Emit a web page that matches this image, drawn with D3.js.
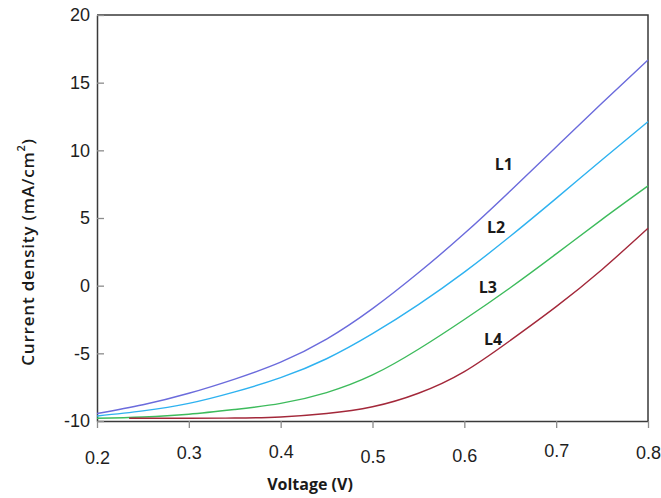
<!DOCTYPE html>
<html>
<head>
<meta charset="utf-8">
<script src="https://cdn.jsdelivr.net/npm/d3@7"></script>
<style>
    body { margin: 0; background: #fff; }
    svg { font-family: "Open Sans", "DejaVu Sans", sans-serif; }
</style>
</head>
<body>
<div id="chart"></div>
<script>
// Data (voltage in V, current density in mA/cm2)
const voltage = [0.2, 0.25, 0.3, 0.35, 0.4, 0.45, 0.5, 0.55, 0.6, 0.65, 0.7, 0.75, 0.8];
const l1 = [-9.45, -8.8, -7.95, -6.9, -5.65, -3.95, -1.7, 0.95, 3.85, 7.0, 10.25, 13.5, 16.68];
const l2 = [-9.63, -9.25, -8.7, -7.85, -6.8, -5.4, -3.55, -1.4, 1.0, 3.65, 6.45, 9.3, 12.12];
const l3 = [-9.8, -9.7, -9.5, -9.15, -8.7, -7.9, -6.6, -4.7, -2.5, -0.15, 2.35, 4.9, 7.37];
const l4Voltage = [0.235, 0.3, 0.35, 0.4, 0.45, 0.5, 0.55, 0.6, 0.65, 0.7, 0.75, 0.8];
const l4 = [-9.8, -9.8, -9.78, -9.7, -9.45, -8.95, -7.95, -6.35, -4.05, -1.55, 1.2, 4.24];

const seriesNames = ["L1", "L2", "L3", "L4"];
const xTicks = [0.2, 0.3, 0.4, 0.5, 0.6, 0.7, 0.8];
const yTicks = [-10, -5, 0, 5, 10, 15, 20];

const colors = {
    L1: "#6b6bdc",
    L2: "#2eb2f0",
    L3: "#3dbb5c",
    L4: "#a3283a"
};

// label anchor points (in data units) for the series names
const labelPos = {
    L1: [0.643, 9.0],
    L2: [0.6345, 4.36],
    L3: [0.6256, -0.1],
    L4: [0.6312, -3.94]
};

const width = 661, height = 498;
const margin = { top: 15, right: 13, bottom: 77, left: 97 };
const w = width - margin.left - margin.right;
const h = height - margin.top - margin.bottom;

const svg = d3.select("#chart").append("svg")
    .attr("width", width)
    .attr("height", height);

const g = svg.append("g")
    .attr("transform", `translate(${margin.left},${margin.top})`);

const x = d3.scaleLinear().domain([0.2, 0.8]).range([0, w]);
const y = d3.scaleLinear().domain([-10, 20]).range([h, 0]);

// Frame (top and right sides)
g.append("path")
    .attr("d", `M0,0H${w}V${h}`)
    .attr("fill", "none")
    .attr("stroke", "#3a3a3a")
    .attr("stroke-width", 1.5);

// Axes
const xAxis = g.append("g")
    .attr("transform", `translate(0,${h})`)
    .call(d3.axisBottom(x).tickValues(xTicks).tickFormat(d3.format(".1f"))
        .tickSize(7).tickSizeOuter(0).tickPadding(18));

// the scanned labels sit at slightly uneven heights
const xLabelShift = [5, 0, -1, 4, 3, -2, 0];
xAxis.selectAll(".tick text")
    .attr("transform", (d, i) => `translate(0,${xLabelShift[i]})`);

const yAxis = g.append("g")
    .call(d3.axisLeft(y).tickValues(yTicks).tickFormat(d => String(d))
        .tickSize(-7).tickSizeOuter(0).tickPadding(7));

[xAxis, yAxis].forEach(a => {
    a.select(".domain").attr("stroke", "#3a3a3a").attr("stroke-width", 1.5);
    a.selectAll(".tick line").attr("stroke", "#8c8c8c").attr("stroke-width", 1.3);
    a.selectAll(".tick text")
        .style("font-size", "18px")
        .attr("fill", "#1e1e1e");
});

// Lines
const line = d3.line()
    .x(d => x(d[0]))
    .y(d => y(d[1]))
    .curve(d3.curveNatural);

const series = [
    { name: "L1", points: d3.zip(voltage, l1) },
    { name: "L2", points: d3.zip(voltage, l2) },
    { name: "L3", points: d3.zip(voltage, l3) },
    { name: "L4", points: d3.zip(l4Voltage, l4) }
];

g.selectAll(".series")
    .data(series)
    .join("path")
    .attr("class", "series")
    .attr("fill", "none")
    .attr("stroke", d => colors[d.name])
    .attr("stroke-width", 1.4)
    .attr("d", d => line(d.points));

// Series labels
g.selectAll(".lbl")
    .data(seriesNames)
    .join("text")
    .attr("class", "lbl")
    .attr("x", d => x(labelPos[d][0]))
    .attr("y", d => y(labelPos[d][1]))
    .attr("text-anchor", "middle")
    .attr("dominant-baseline", "central")
    .style("font-size", "16px")
    .style("font-weight", "bold")
    .attr("fill", "#1a1a1a")
    .text(d => d);

// Axis titles
svg.append("text")
    .attr("x", 310)
    .attr("y", 484)
    .attr("text-anchor", "middle")
    .attr("dominant-baseline", "central")
    .style("font-size", "16px")
    .style("font-weight", "bold")
    .attr("fill", "#1a1a1a")
    .text("Voltage (V)");

const yTitle = svg.append("text")
    .attr("transform", "translate(27,252) rotate(-90)")
    .attr("text-anchor", "middle")
    .attr("dominant-baseline", "central")
    .style("font-size", "17px")
    .style("font-weight", "600")
    .style("letter-spacing", "0.8px")
    .attr("fill", "#1a1a1a");
yTitle.append("tspan").text("Current density (mA/cm");
yTitle.append("tspan").attr("dy", -7).style("font-size", "11px").text("2");
yTitle.append("tspan").attr("dy", 7).text(")");
</script>
</body>
</html>
